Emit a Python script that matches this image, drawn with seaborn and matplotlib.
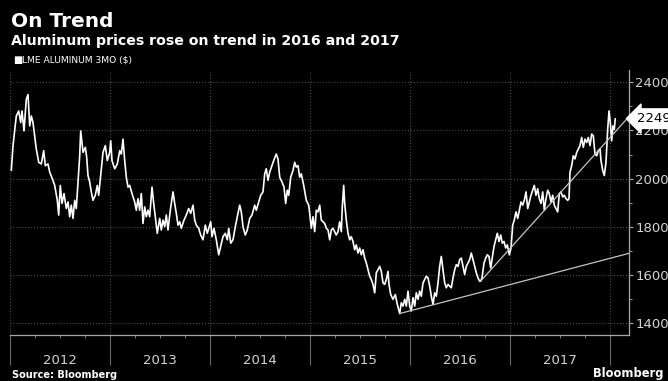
import matplotlib
matplotlib.use("Agg")
import matplotlib.pyplot as plt
import matplotlib.transforms as mtransforms
from matplotlib.ticker import FixedLocator, MultipleLocator, NullFormatter
import seaborn as sns
import pandas as pd

# ---------------- data ----------------
dates = [
    2012.013, 2012.030, 2012.063, 2012.087, 2012.107, 2012.120, 2012.140, 2012.163, 2012.180, 2012.197,
    2012.213, 2012.230, 2012.247, 2012.263, 2012.287, 2012.313, 2012.337, 2012.353, 2012.380, 2012.397,
    2012.423, 2012.447, 2012.473, 2012.487, 2012.503, 2012.520, 2012.540, 2012.563, 2012.580, 2012.597,
    2012.613, 2012.630, 2012.647, 2012.663, 2012.680, 2012.697, 2012.707, 2012.730, 2012.753, 2012.767,
    2012.780, 2012.797, 2012.813, 2012.830, 2012.853, 2012.873, 2012.887, 2012.907, 2012.930, 2012.953,
    2012.973, 2012.997,
    2013.007, 2013.020, 2013.047, 2013.073, 2013.097, 2013.113, 2013.130, 2013.147, 2013.163, 2013.180,
    2013.197, 2013.220, 2013.247, 2013.263, 2013.280, 2013.297, 2013.313, 2013.330, 2013.347, 2013.363,
    2013.380, 2013.397, 2013.420, 2013.437, 2013.453, 2013.473, 2013.497, 2013.513, 2013.530, 2013.547,
    2013.563, 2013.580, 2013.603, 2013.630, 2013.647, 2013.663, 2013.680, 2013.697, 2013.713, 2013.740,
    2013.763, 2013.787, 2013.807, 2013.830, 2013.847, 2013.863, 2013.887, 2013.907, 2013.930, 2013.953,
    2013.973, 2013.997,
    2014.007, 2014.020, 2014.040, 2014.063, 2014.087, 2014.107, 2014.130, 2014.153, 2014.173, 2014.187,
    2014.207, 2014.230, 2014.253, 2014.273, 2014.297, 2014.313, 2014.330, 2014.353, 2014.373, 2014.397,
    2014.420, 2014.447, 2014.463, 2014.487, 2014.507, 2014.530, 2014.547, 2014.563, 2014.580, 2014.597,
    2014.620, 2014.637, 2014.663, 2014.680, 2014.697, 2014.720, 2014.740, 2014.757, 2014.773, 2014.787,
    2014.807, 2014.830, 2014.847, 2014.863, 2014.880, 2014.897, 2014.913, 2014.937, 2014.963, 2014.987,
    2014.997,
    2015.013, 2015.030, 2015.047, 2015.063, 2015.080, 2015.097, 2015.113, 2015.130, 2015.147, 2015.163,
    2015.180, 2015.197, 2015.213, 2015.230, 2015.247, 2015.263, 2015.280, 2015.297, 2015.313, 2015.323,
    2015.337, 2015.347, 2015.363, 2015.380, 2015.397, 2015.413, 2015.430, 2015.447, 2015.463, 2015.480,
    2015.497, 2015.513, 2015.530, 2015.547, 2015.563, 2015.580, 2015.597, 2015.613, 2015.630, 2015.647,
    2015.663, 2015.680, 2015.697, 2015.713, 2015.730, 2015.747, 2015.763, 2015.780, 2015.790, 2015.807,
    2015.830, 2015.853, 2015.873, 2015.897, 2015.913, 2015.930, 2015.947, 2015.963, 2015.980, 2015.997,
    2016.013, 2016.030, 2016.047, 2016.063, 2016.080, 2016.097, 2016.113, 2016.130, 2016.147, 2016.163,
    2016.180, 2016.197, 2016.213, 2016.230, 2016.247, 2016.263, 2016.280, 2016.297, 2016.313, 2016.330,
    2016.347, 2016.363, 2016.380, 2016.397, 2016.413, 2016.430, 2016.447, 2016.463, 2016.480, 2016.497,
    2016.513, 2016.530, 2016.547, 2016.563, 2016.580, 2016.597, 2016.613, 2016.630, 2016.647, 2016.663,
    2016.680, 2016.697, 2016.707, 2016.720, 2016.740, 2016.757, 2016.773, 2016.790, 2016.807, 2016.820,
    2016.840, 2016.857, 2016.873, 2016.890, 2016.907, 2016.923, 2016.940, 2016.957, 2016.973, 2016.993,
    2017.010, 2017.027, 2017.043, 2017.060, 2017.077, 2017.093, 2017.110, 2017.127, 2017.143, 2017.160,
    2017.177, 2017.193, 2017.210, 2017.227, 2017.243, 2017.260, 2017.277, 2017.293, 2017.310, 2017.327,
    2017.343, 2017.360, 2017.377, 2017.393, 2017.410, 2017.427, 2017.443, 2017.460, 2017.477, 2017.493,
    2017.510, 2017.527, 2017.543, 2017.560, 2017.577, 2017.590, 2017.600, 2017.617, 2017.633, 2017.650,
    2017.667, 2017.683, 2017.700, 2017.717, 2017.733, 2017.750, 2017.767, 2017.783, 2017.800, 2017.817,
    2017.833, 2017.850, 2017.867, 2017.883, 2017.900, 2017.910, 2017.927, 2017.943, 2017.960, 2017.977,
    2017.990, 2018.003, 2018.017, 2018.030, 2018.043, 2018.053,
]
price = [
    2034, 2137, 2260, 2281, 2233, 2281, 2198, 2329, 2349, 2219,
    2260, 2233, 2178, 2123, 2068, 2061, 2116, 2054, 2061, 2027,
    2000, 1972, 1910, 1849, 1972, 1897, 1938, 1876, 1903, 1842,
    1890, 1835, 1910, 1876, 1986, 2095, 2198, 2109, 2130, 2089,
    2013, 1986, 1945, 1910, 1931, 1972, 1931, 2013, 2109, 2137,
    2075, 2109,
    2157, 2075, 2041, 2061, 2116, 2102, 2164, 2075, 2006, 1965,
    1972, 1938, 1903, 1869, 1917, 1869, 1938, 1814, 1883, 1842,
    1869, 1842, 1965, 1897, 1842, 1773, 1835, 1787, 1828, 1801,
    1849, 1787, 1869, 1945, 1897, 1856, 1807, 1821, 1794, 1828,
    1849, 1876, 1856, 1890, 1828, 1807, 1794, 1766, 1746, 1807,
    1773, 1807,
    1821, 1759, 1794, 1746, 1684, 1718, 1759, 1773, 1746, 1794,
    1732, 1746, 1800, 1842, 1890, 1862, 1800, 1766, 1787, 1835,
    1849, 1890, 1869, 1903, 1931, 1945, 2020, 2041, 1993, 2027,
    2054, 2075, 2102, 2082, 2006, 1986, 1965, 1897, 1952, 1931,
    2006, 2034, 2068, 2048, 2054, 2006, 2020, 1972, 1910, 1890,
    1856,
    1794, 1842, 1780, 1869, 1862, 1890, 1828, 1821, 1814, 1794,
    1787, 1746, 1787, 1794, 1780, 1766, 1780, 1821, 1780, 1883,
    1972, 1897, 1828, 1773, 1746, 1759, 1739, 1705, 1725, 1691,
    1712, 1684, 1705, 1670, 1650, 1622, 1595, 1581, 1561, 1526,
    1609, 1622, 1636, 1615, 1567, 1561, 1581, 1615, 1561, 1519,
    1499, 1519, 1478, 1440, 1485, 1471, 1499, 1471, 1533, 1471,
    1451, 1506, 1471, 1526, 1499, 1533, 1512, 1567, 1581, 1595,
    1588, 1554, 1512, 1478, 1526, 1512, 1567, 1636, 1677, 1622,
    1567, 1547, 1561, 1554, 1547, 1588, 1622, 1643, 1636, 1664,
    1670, 1636, 1602, 1636, 1650, 1664, 1691, 1664, 1636, 1609,
    1588, 1574, 1575, 1588, 1650, 1670, 1684, 1677, 1629, 1664,
    1718, 1746, 1773, 1739, 1766, 1732, 1739, 1712, 1725, 1684,
    1712, 1807, 1828, 1862, 1835, 1869, 1903, 1890, 1910, 1945,
    1876, 1903, 1931, 1952, 1972, 1931, 1958, 1917, 1897, 1945,
    1869, 1917, 1952, 1938, 1903, 1931, 1890, 1876, 1862, 1938,
    1945, 1924, 1931, 1917, 1910, 1917, 2027, 2054, 2095, 2082,
    2109, 2123, 2137, 2171, 2130, 2164, 2150, 2171, 2137, 2185,
    2178, 2102, 2095, 2116, 2123, 2075, 2034, 2013, 2068, 2205,
    2281, 2233, 2157, 2219, 2205, 2249,
]
trend1_dates = [2015.897, 2018.19]
trend1_values = [1440, 1690]
trend2_dates = [2016.707, 2018.16]
trend2_values = [1575, 2244]
year_starts = [2012, 2013, 2014, 2015, 2016, 2017, 2018]
year_labels = ["2012", "2013", "2014", "2015", "2016", "2017"]
y_ticks = [1400, 1600, 1800, 2000, 2200, 2400]
last_label = "2249.0"
last_value = 2249.0

title = "On Trend"
subtitle = "Aluminum prices rose on trend in 2016 and 2017"
legend_label = "LME ALUMINUM 3MO ($)"
source = "Source: Bloomberg"
brand = "Bloomberg"

# ---------------- style ----------------
sns.set_theme(style="dark")
plt.rcParams['font.family'] = ['DejaVu Sans']
NARROW = ['Liberation Sans Narrow', 'DejaVu Sans']

W, H = 668, 381
fig = plt.figure(figsize=(W / 100, H / 100), dpi=100, facecolor='black')
ax = fig.add_axes([10 / W, 1 - 335 / H, 619 / W, 265 / H])
ax.set_facecolor('black')

df = pd.DataFrame({'date': dates, 'price': price})
sns.lineplot(data=df, x='date', y='price', ax=ax, color='white', linewidth=1.2, sort=False)
sns.lineplot(x=trend1_dates, y=trend1_values, ax=ax, color='#c4c4c4', linewidth=0.9)
sns.lineplot(x=trend2_dates, y=trend2_values, ax=ax, color='#c4c4c4', linewidth=0.9)

ax.set_xlim(2012.0, 2018.19)
ax.set_ylim(1351, 2451)
ax.set_xlabel('')
ax.set_ylabel('')

# y axis on the right
ax.yaxis.tick_right()
ax.yaxis.set_major_locator(FixedLocator(y_ticks))
ax.yaxis.set_minor_locator(MultipleLocator(100))
ax.tick_params(axis='y', which='major', direction='out', length=3, width=0.8,
               color='#aaaaaa', pad=1.5, labelcolor='#d4d4d4', labelsize=9.5,
               right=True, left=False)
ax.tick_params(axis='y', which='minor', direction='out', length=2, width=0.6,
               color='#aaaaaa', right=True, left=False)
for lab in ax.get_yticklabels():
    lab.set_family(NARROW)

# x axis: year separators + quarter ticks
ax.xaxis.set_major_locator(FixedLocator(year_starts))
ax.xaxis.set_major_formatter(NullFormatter())
ax.xaxis.set_minor_locator(MultipleLocator(0.25))
ax.tick_params(axis='x', which='major', direction='out', length=21.5, width=0.8,
               color='#6a6a6a', bottom=True)
ax.tick_params(axis='x', which='minor', direction='out', length=2.5, width=0.6,
               color='#8a8a8a', bottom=True)

trans = mtransforms.blended_transform_factory(ax.transData, ax.transAxes)
for ys, lab in zip(year_starts[:-1], year_labels):
    ax.text(ys + 0.5, -0.096, lab, transform=trans, ha='center', va='center',
            color='#d4d4d4', fontsize=9.5, family=NARROW)

# grid
ax.grid(True, which='major', axis='both', color='#4a4a4a', linestyle=':', linewidth=0.8)
ax.set_axisbelow(True)

for side in ['top', 'left']:
    ax.spines[side].set_visible(False)
for side in ['right', 'bottom']:
    ax.spines[side].set_visible(True)
    ax.spines[side].set_color('#a8a8a8')
    ax.spines[side].set_linewidth(0.9)

# last value tag
ytrans = mtransforms.blended_transform_factory(ax.transAxes, ax.transData)
ax.text(1.013, last_value, last_label, transform=ytrans, ha='left', va='center',
        fontsize=9.5, family=NARROW, color='black', clip_on=False,
        bbox=dict(boxstyle='larrow,pad=0.25', fc='white', ec='white'))

# texts
fig.text(11 / W, 1 - 27 / H, title, color='white', fontsize=14.5, fontweight='bold', va='baseline')
fig.text(11 / W, 1 - 45 / H, subtitle, color='white', fontsize=10.2, fontweight='bold', va='baseline')
fig.text(13 / W, 1 - 60 / H, '■', color='white', fontsize=7, va='center')
fig.text(22 / W, 1 - 60 / H, legend_label, color='white', fontsize=6.6, family=NARROW, va='center')
fig.text(12 / W, 1 - 374.5 / H, source, color='white', fontsize=7, fontweight='bold', va='center')
fig.text(664 / W, 1 - 373 / H, brand, color='white', fontsize=8.3, fontweight='bold', va='center', ha='right')

fig.savefig('out.png', dpi=100, facecolor='black')
